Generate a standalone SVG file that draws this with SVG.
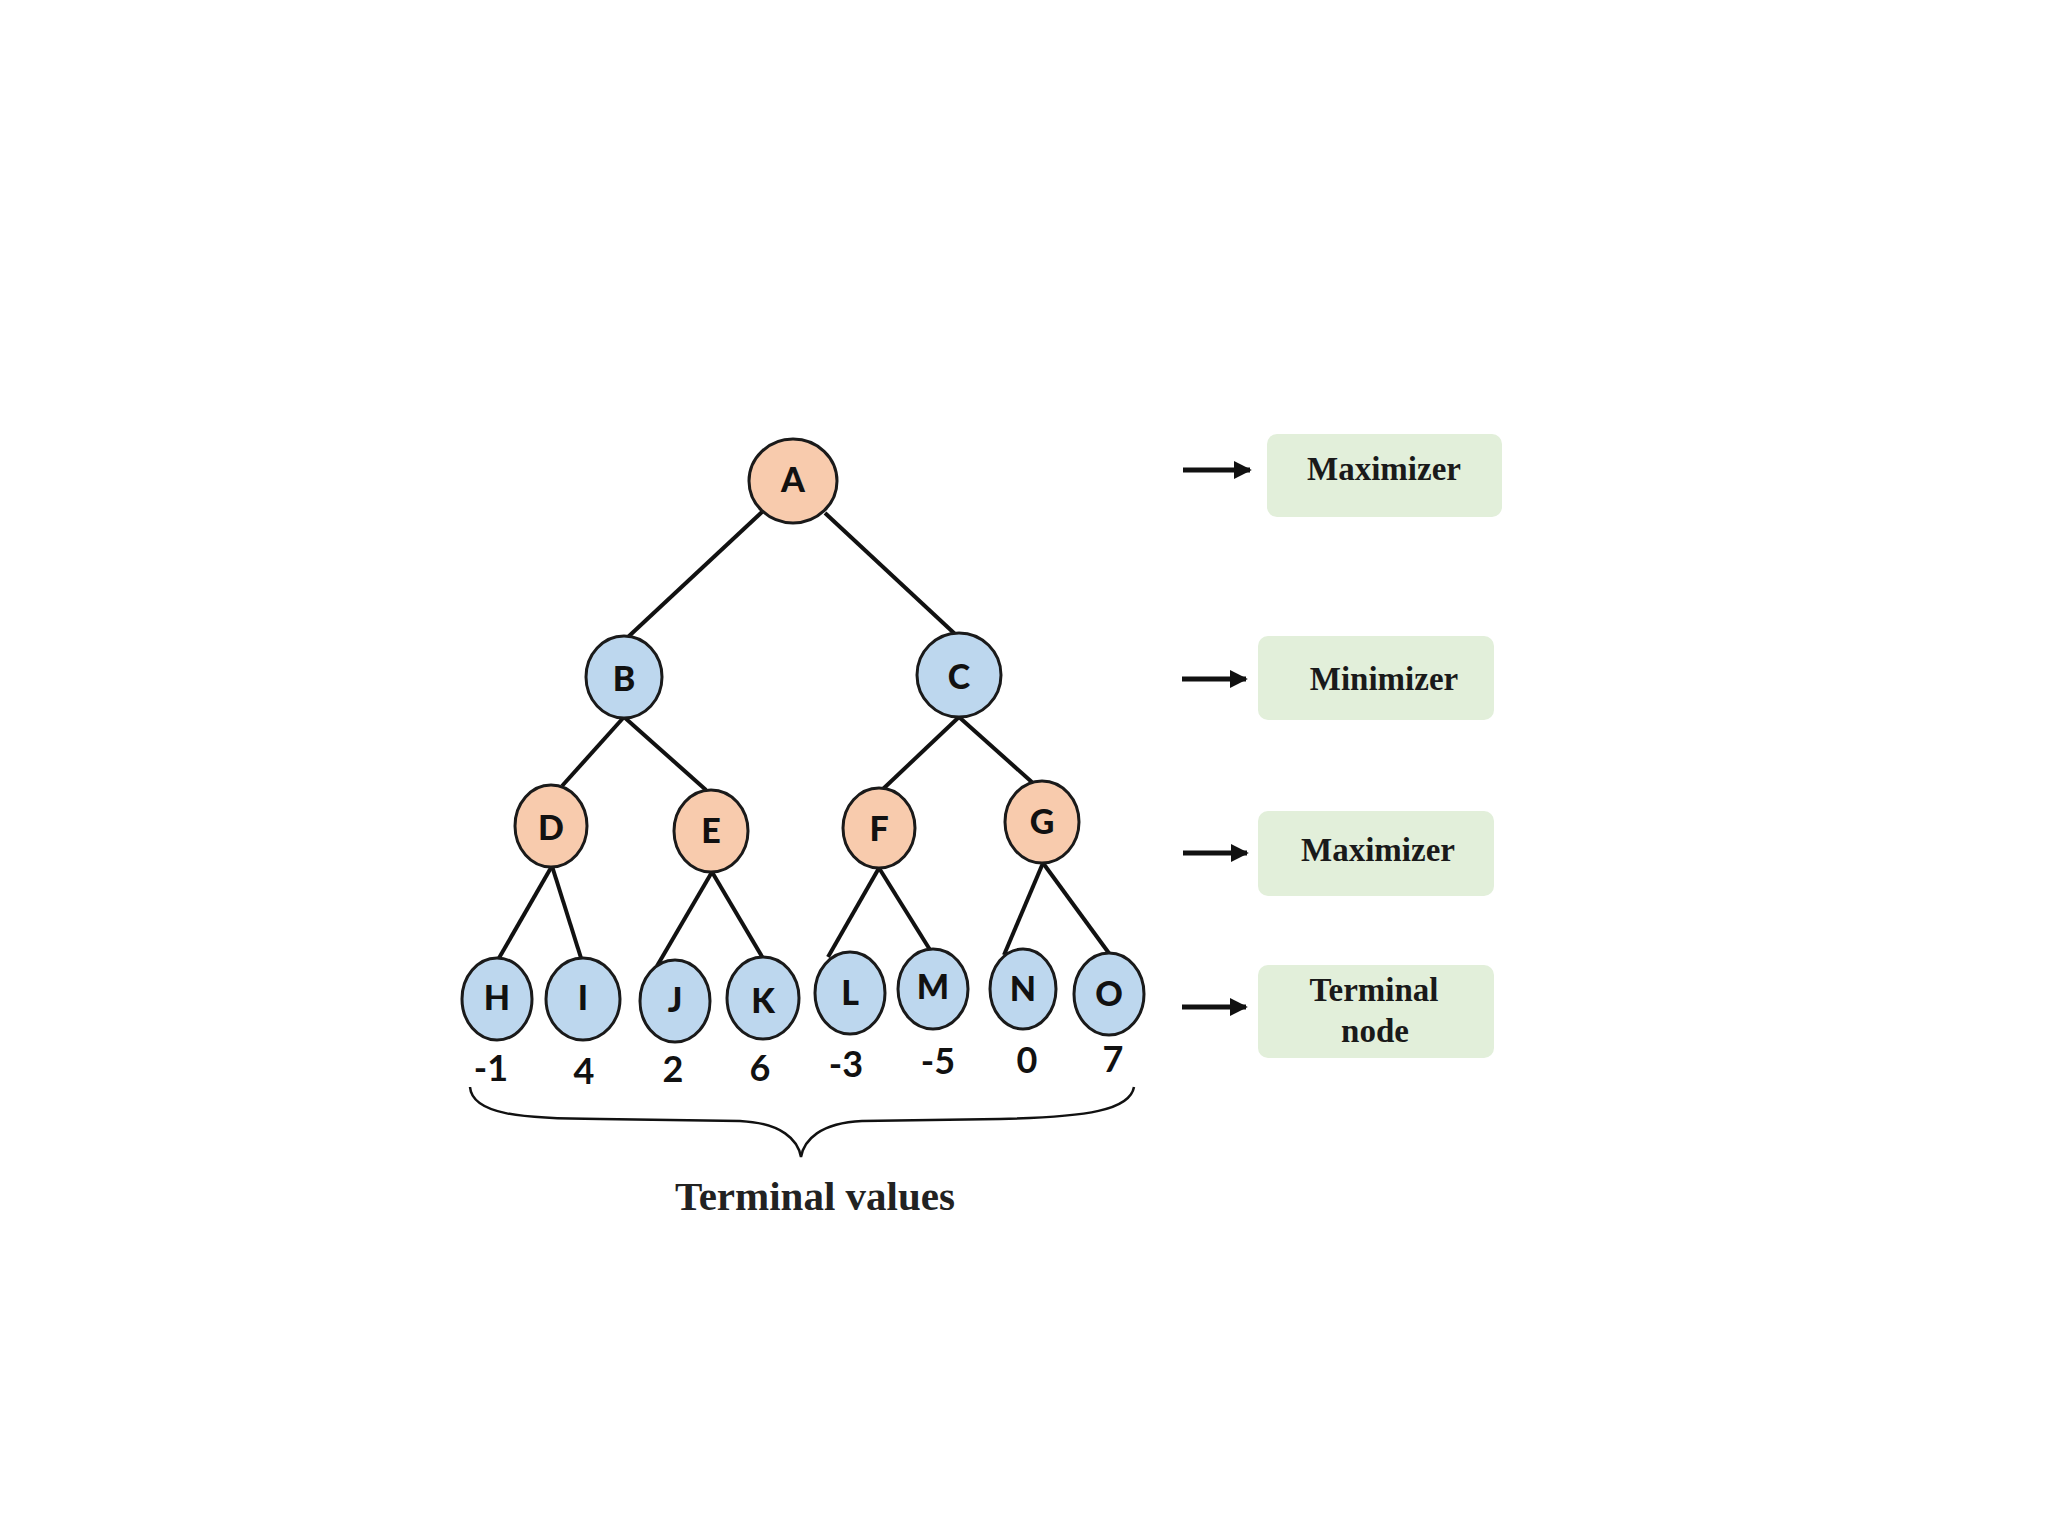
<svg xmlns="http://www.w3.org/2000/svg" width="2048" height="1536" viewBox="0 0 2048 1536">
<defs>
<style>
.max{fill:#f8cbad;stroke:#1a1a1a;stroke-width:3}
.min{fill:#bdd7ee;stroke:#1a1a1a;stroke-width:3}
.lbl{font-family:Lato,"Open Sans",sans-serif;font-weight:900;font-size:34px;fill:#111;text-anchor:middle;dominant-baseline:central}
.val{font-family:Lato,"Open Sans",sans-serif;font-weight:bold;font-size:36px;fill:#111;text-anchor:middle;dominant-baseline:central}
.edge{stroke:#111;stroke-width:4;fill:none}
.box{fill:#e2efda}
.btxt{font-family:"Liberation Serif",serif;font-weight:bold;font-size:33px;fill:#1a1a1a;text-anchor:middle;dominant-baseline:central}
.arr{stroke:#111;stroke-width:5;fill:none}
</style>
<marker id="ah" viewBox="0 0 10 10" refX="9" refY="5" markerWidth="3.6" markerHeight="3.6" orient="auto" markerUnits="strokeWidth">
<path d="M0,0 L10,5 L0,10 Z" fill="#111"/>
</marker>
</defs>
<rect width="2048" height="1536" fill="#ffffff"/>
<g id="connectors">
<line class="edge" x1="762" y1="512" x2="628" y2="637"/>
<line class="edge" x1="825" y1="513" x2="955" y2="634"/>
<line class="edge" x1="624" y1="717" x2="562" y2="786"/>
<line class="edge" x1="624" y1="717" x2="706" y2="790"/>
<line class="edge" x1="959" y1="717" x2="883" y2="789"/>
<line class="edge" x1="959" y1="717" x2="1034" y2="784"/>
<line class="edge" x1="552" y1="866" x2="499" y2="958"/>
<line class="edge" x1="552" y1="866" x2="581" y2="958"/>
<line class="edge" x1="712" y1="872" x2="657" y2="966"/>
<line class="edge" x1="712" y1="872" x2="764" y2="960"/>
<line class="edge" x1="879" y1="868" x2="828" y2="957"/>
<line class="edge" x1="879" y1="868" x2="932" y2="953"/>
<line class="edge" x1="1043" y1="863" x2="1004" y2="955"/>
<line class="edge" x1="1043" y1="863" x2="1111" y2="956"/>
</g>
<g id="node-A"><ellipse class="max" cx="793" cy="481" rx="44" ry="42"/><text class="lbl" x="793" y="478">A</text></g>
<g id="node-B"><ellipse class="min" cx="624" cy="677" rx="38" ry="41"/><text class="lbl" x="624" y="677">B</text></g>
<g id="node-C"><ellipse class="min" cx="959" cy="675" rx="42" ry="42"/><text class="lbl" x="959" y="675">C</text></g>
<g id="node-D"><ellipse class="max" cx="551" cy="826" rx="36" ry="41"/><text class="lbl" x="551" y="826">D</text></g>
<g id="node-E"><ellipse class="max" cx="711" cy="831" rx="37" ry="41"/><text class="lbl" x="711" y="829">E</text></g>
<g id="node-F"><ellipse class="max" cx="879" cy="828" rx="36" ry="40"/><text class="lbl" x="879" y="827">F</text></g>
<g id="node-G"><ellipse class="max" cx="1042" cy="822" rx="37" ry="41"/><text class="lbl" x="1042" y="820">G</text></g>
<g id="node-H"><ellipse class="min" cx="497" cy="999" rx="35" ry="41"/><text class="lbl" x="497" y="996">H</text><text class="val" x="491" y="1067">-1</text></g>
<g id="node-I"><ellipse class="min" cx="583" cy="999" rx="37" ry="41"/><text class="lbl" x="583" y="996">I</text><text class="val" x="584" y="1070">4</text></g>
<g id="node-J"><ellipse class="min" cx="675" cy="1001" rx="35" ry="41"/><text class="lbl" x="675" y="998">J</text><text class="val" x="673" y="1068">2</text></g>
<g id="node-K"><ellipse class="min" cx="763" cy="998" rx="36" ry="41"/><text class="lbl" x="763" y="999">K</text><text class="val" x="760" y="1067">6</text></g>
<g id="node-L"><ellipse class="min" cx="850" cy="993" rx="35" ry="41"/><text class="lbl" x="850" y="991">L</text><text class="val" x="846" y="1063">-3</text></g>
<g id="node-M"><ellipse class="min" cx="933" cy="989" rx="35" ry="40"/><text class="lbl" x="933" y="985">M</text><text class="val" x="938" y="1060">-5</text></g>
<g id="node-N"><ellipse class="min" cx="1023" cy="989" rx="33" ry="40"/><text class="lbl" x="1023" y="987">N</text><text class="val" x="1027" y="1059">0</text></g>
<g id="node-O"><ellipse class="min" cx="1109" cy="994" rx="35" ry="41"/><text class="lbl" x="1109" y="992">O</text><text class="val" x="1113" y="1058">7</text></g>
<g id="brace">
<path d="M 470,1087 C 472,1114 520,1119 600,1119 L 740,1121 C 782,1123 798,1140 801,1157 C 804,1140 820,1123 862,1121 L 1000,1119 C 1088,1117 1130,1110 1134,1087" fill="none" stroke="#111" stroke-width="2.5"/>
<text x="815" y="1196" font-family="Liberation Serif, serif" font-weight="bold" font-size="41" fill="#222" text-anchor="middle" dominant-baseline="central">Terminal values</text>
</g>
<g id="legend-maximizer-1">
<line class="arr" x1="1183" y1="470" x2="1250" y2="470" marker-end="url(#ah)"/>
<rect class="box" x="1267" y="434" width="235" height="83" rx="10"/>
<text class="btxt" x="1384" y="469">Maximizer</text>
</g>
<g id="legend-minimizer">
<line class="arr" x1="1182" y1="679" x2="1246" y2="679" marker-end="url(#ah)"/>
<rect class="box" x="1258" y="636" width="236" height="84" rx="10"/>
<text class="btxt" x="1384" y="679">Minimizer</text>
</g>
<g id="legend-maximizer-2">
<line class="arr" x1="1183" y1="853" x2="1247" y2="853" marker-end="url(#ah)"/>
<rect class="box" x="1258" y="811" width="236" height="85" rx="10"/>
<text class="btxt" x="1378" y="850">Maximizer</text>
</g>
<g id="legend-terminal">
<line class="arr" x1="1182" y1="1007" x2="1246" y2="1007" marker-end="url(#ah)"/>
<rect class="box" x="1258" y="965" width="236" height="93" rx="10"/>
<text class="btxt" x="1374" y="990">Terminal</text>
<text class="btxt" x="1375" y="1031">node</text>
</g>
</svg>
